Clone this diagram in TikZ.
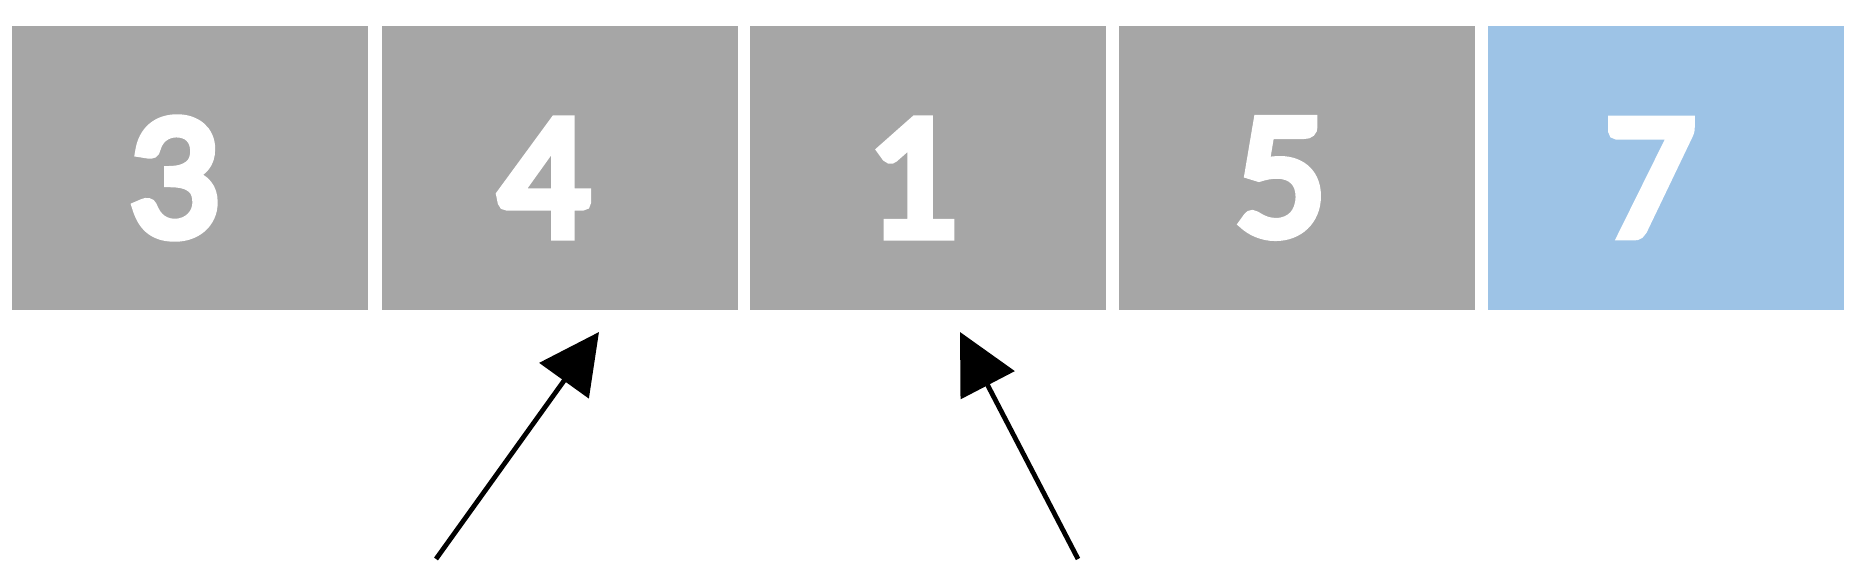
\documentclass[tikz,border=0pt]{standalone}
\usepackage{fontspec}
\newfontfamily\digitfont{Carlito}[FakeBold=6]
\usetikzlibrary{arrows.meta}
\definecolor{cellgray}{HTML}{A6A6A6}
\definecolor{cellblue}{HTML}{9DC3E6}
\tikzset{
  cell/.style={rectangle, inner sep=0pt, minimum width=178pt, minimum height=142pt, draw=none},
  digit/.style={inner sep=0pt, text=white, font=\digitfont\fontsize{89pt}{92pt}\selectfont},
  pointer/.style={line width=2.4pt, -{Triangle[length=30pt,width=30pt]}}
}
\begin{document}
\begin{tikzpicture}[x=0.5pt,y=-0.5pt]
\useasboundingbox[fill=white] (0,0) rectangle (1872,576);
\node[cell, fill=cellgray] (c1) at (190,168) {};
\node[cell, fill=cellgray] (c2) at (559.5,168) {};
\node[cell, fill=cellgray] (c3) at (928,168) {};
\node[cell, fill=cellgray] (c4) at (1297,168) {};
\node[cell, fill=cellblue] (c5) at (1666,168) {};
\node[digit] (d1) at (174,178) {3};
\node[digit] (d2) at (543.5,178) {4};
\node[digit] (d3) at (912,178) {1};
\node[digit] (d4) at (1281,178) {5};
\node[digit] (d5) at (1650,178) {7};
\coordinate (a1s) at (436,559);
\coordinate (a1t) at (599,332);
\coordinate (a2s) at (1078,559);
\coordinate (a2t) at (960,332);
\draw[pointer] (a1s) -- (a1t);
\draw[pointer] (a2s) -- (a2t);
\end{tikzpicture}
\end{document}
